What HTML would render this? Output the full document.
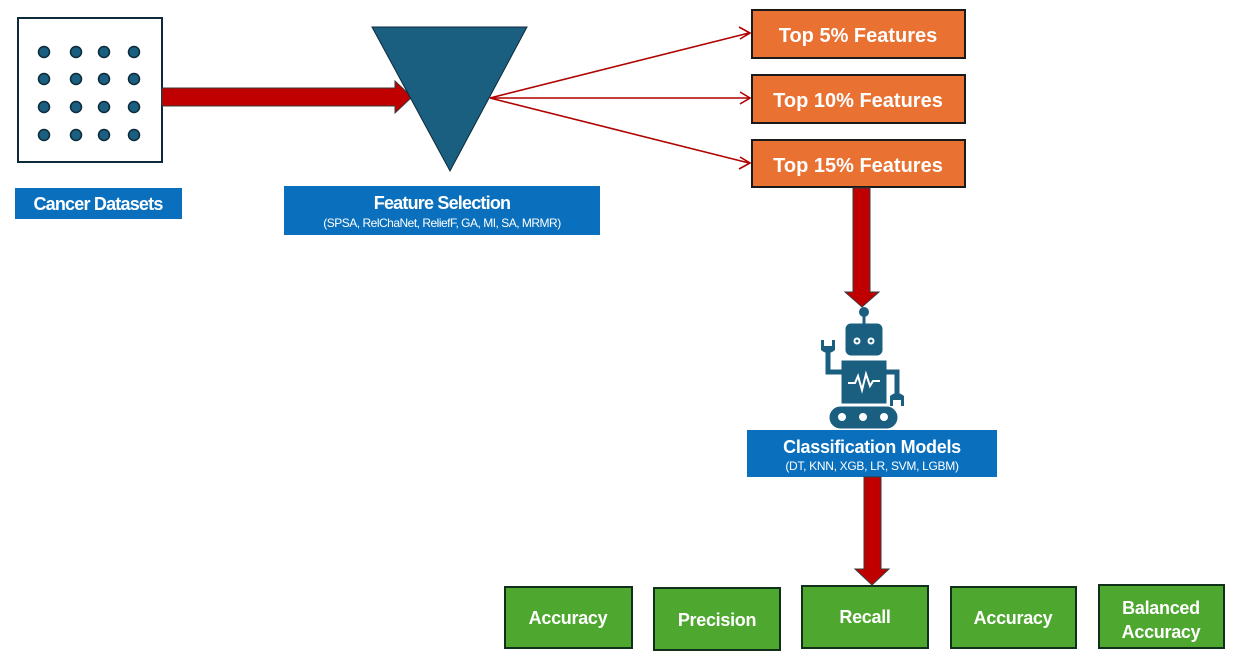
<!DOCTYPE html>
<html><head><meta charset="utf-8"><style>
html,body{margin:0;padding:0;background:#fff;}
svg{display:block;}
text{font-family:"Liberation Sans",Arial,sans-serif;font-weight:bold;fill:#fff;}
</style></head><body>
<svg width="1233" height="657" viewBox="0 0 1233 657" xmlns="http://www.w3.org/2000/svg">
<rect x="18" y="18" width="144" height="144" fill="#fff" stroke="#0d2a3a" stroke-width="2"/>
<g fill="#1a5e80" stroke="#0d2a3a" stroke-width="1.5">
<circle cx="44" cy="52" r="5.5"/><circle cx="76" cy="52" r="5.5"/><circle cx="104" cy="52" r="5.5"/><circle cx="134" cy="52" r="5.5"/>
<circle cx="44" cy="79" r="5.5"/><circle cx="76" cy="79" r="5.5"/><circle cx="104" cy="79" r="5.5"/><circle cx="134" cy="79" r="5.5"/>
<circle cx="44" cy="107" r="5.5"/><circle cx="76" cy="107" r="5.5"/><circle cx="104" cy="107" r="5.5"/><circle cx="134" cy="107" r="5.5"/>
<circle cx="44" cy="135" r="5.5"/><circle cx="76" cy="135" r="5.5"/><circle cx="104" cy="135" r="5.5"/><circle cx="134" cy="135" r="5.5"/>
</g>
<rect x="15" y="188" width="167" height="31" fill="#0a70bd"/>
<text x="98" y="210" font-size="18" text-anchor="middle" letter-spacing="-0.8">Cancer Datasets</text>

<polygon points="162,88 395,88 395,81 412,97 395,113 395,106 162,106" fill="#c00000" stroke="#3a3a3a" stroke-width="1"/>
<polygon points="372,27 527,27 450,171" fill="#1a5e80" stroke="#0d2a3a" stroke-width="1"/>
<rect x="284" y="186" width="316" height="49" fill="#0a70bd"/>
<text x="442" y="209" font-size="18" text-anchor="middle" letter-spacing="-0.8">Feature Selection</text>
<text x="442" y="227" font-size="12" text-anchor="middle" letter-spacing="-0.5" style="font-weight:normal">(SPSA, RelChaNet, ReliefF, GA, MI, SA, MRMR)</text>

<g stroke="#b00000" stroke-width="1.6" fill="none">
<line x1="490" y1="98" x2="749" y2="33"/>
<line x1="490" y1="98" x2="749" y2="98"/>
<line x1="490" y1="98" x2="749" y2="163"/>
<polyline points="739,27 750,33 740,39"/>
<polyline points="740,92 750,98 740,104"/>
<polyline points="740,157 750,163 739,169"/>
</g>

<g fill="#e97132" stroke="#1a1a1a" stroke-width="2">
<rect x="752" y="10" width="213" height="48"/>
<rect x="752" y="75" width="213" height="48"/>
<rect x="752" y="140" width="213" height="47"/>
</g>
<text x="858" y="42" font-size="20" text-anchor="middle">Top 5% Features</text>
<text x="858" y="107" font-size="20" text-anchor="middle">Top 10% Features</text>
<text x="858" y="172" font-size="20" text-anchor="middle">Top 15% Features</text>

<polygon points="853,188 870,188 870,292 879,292 862,307 845,292 853,292" fill="#c00000" stroke="#3a3a3a" stroke-width="1"/>

<g fill="#1a5e80" stroke="#1a5e80">
<line x1="864" y1="312" x2="864" y2="324" stroke-width="3"/>
<circle cx="864" cy="312" r="4.5"/>
<rect x="846" y="324" width="36" height="31" rx="5"/>
<rect x="842" y="361" width="44" height="42"/>
<rect x="830" y="407" width="67" height="21" rx="10.5"/>
<polyline points="842,372 828,372 828,348" fill="none" stroke-width="5"/>
<polyline points="886,372 897,372 897,396" fill="none" stroke-width="5"/>
</g>
<path d="M821,340 L821,350 Q828,356 835,350 L835,340 L832,340 L832,346 L824,346 L824,340 Z" fill="#1a5e80"/>
<path d="M890,406 L890,396 Q897,390 904,396 L904,406 L901,406 L901,400 L893,400 L893,406 Z" fill="#1a5e80"/>
<g fill="none" stroke="#fff" stroke-width="2">
<circle cx="857" cy="341" r="2.5"/><circle cx="871" cy="341" r="2.5"/>
<polyline points="848,383 855,383 858,376 862,390 866,374 870,386 873,381 880,381"/>
</g>
<g fill="#fff"><circle cx="842" cy="417" r="4"/><circle cx="863" cy="417" r="4"/><circle cx="884" cy="417" r="4"/></g>

<rect x="747" y="430" width="250" height="47" fill="#0a70bd"/>
<text x="872" y="453" font-size="18" text-anchor="middle" letter-spacing="-0.3">Classification Models</text>
<text x="872" y="470" font-size="12" text-anchor="middle" style="font-weight:normal" letter-spacing="-0.3">(DT, KNN, XGB, LR, SVM, LGBM)</text>

<polygon points="864,477 881,477 881,569 889,569 872,585 855,569 864,569" fill="#c00000" stroke="#3a3a3a" stroke-width="1"/>

<g fill="#4ea72e" stroke="#10301a" stroke-width="2">
<rect x="505" y="587" width="127" height="61"/>
<rect x="654" y="588" width="126" height="62"/>
<rect x="802" y="586" width="126" height="62"/>
<rect x="951" y="587" width="125" height="61"/>
<rect x="1099" y="585" width="125" height="63"/>
</g>
<g font-size="18" text-anchor="middle" letter-spacing="-0.3">
<text x="568" y="624">Accuracy</text>
<text x="717" y="626">Precision</text>
<text x="865" y="623">Recall</text>
<text x="1013" y="624">Accuracy</text>
<text x="1161" y="614">Balanced</text>
<text x="1161" y="638">Accuracy</text>
</g>
</svg>
</body></html>
